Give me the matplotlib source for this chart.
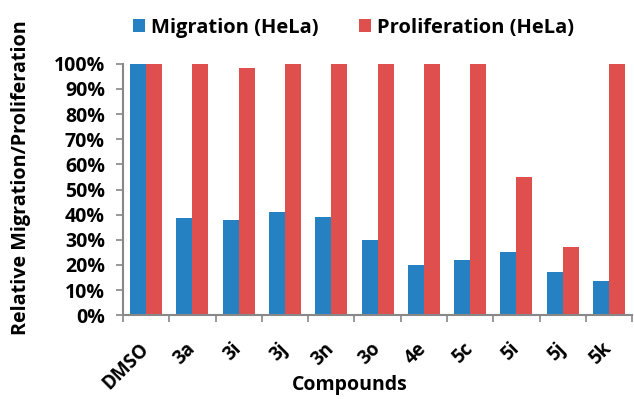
import matplotlib.pyplot as plt
import numpy as np

plt.rcParams['font.family'] = ['Open Sans', 'DejaVu Sans']
plt.rcParams['font.weight'] = 'bold'

compounds = ["DMSO", "3a", "3i", "3j", "3n", "3o", "4e", "5c", "5i", "5j", "5k"]
migration = [100, 38.5, 38, 41, 39, 30, 20, 22, 25, 17, 13.5]
proliferation = [100, 100, 98.3, 100, 100, 100, 100, 100, 55, 27, 100]

blue = "#2681C2"
red = "#DE4F4E"

fig = plt.figure(figsize=(6.34, 3.99), dpi=100)
ax = fig.add_axes([0.194, 0.21, 0.803, 0.63])

x = np.arange(len(compounds))
w = 0.345
ax.bar(x - w / 2, migration, w, color=blue, label="Migration (HeLa)")
ax.bar(x + w / 2, proliferation, w, color=red, label="Proliferation (HeLa)")

ax.set_xlim(-0.5, len(compounds) - 0.5)
ax.set_ylim(0, 100)
ax.set_yticks(range(0, 101, 10))
ax.set_yticklabels([f"{v}%" for v in range(0, 101, 10)], fontsize=14, fontweight='bold')

ax.set_xticks(x)
ax.set_xticklabels(compounds, rotation=45, ha='right', va='center', rotation_mode='anchor',
                   fontsize=13.5, fontweight='bold')
ax.tick_params(axis='x', which='major', length=0, pad=22)
ax.set_xticks(np.arange(-0.5, len(compounds)), minor=True)
ax.tick_params(axis='x', which='minor', length=5, color='#888888', width=1.2)
ax.tick_params(axis='y', length=5, color='#888888', width=1.2, pad=8)

for s in ['top', 'right']:
    ax.spines[s].set_visible(False)
for s in ['left', 'bottom']:
    ax.spines[s].set_color('#888888')
    ax.spines[s].set_linewidth(1.5)

ax.set_ylabel("Relative Migration/Proliferation", fontsize=14.2, fontweight='bold',
              va='center')
ax.yaxis.set_label_coords(-0.2, 0.546)
ax.set_xlabel("Compounds", fontsize=14, fontweight='bold', va='center')
ax.xaxis.set_label_coords(0.446, -0.279)

fig.legend(loc='center', bbox_to_anchor=(0.558, 0.93), ncol=2, frameon=False,
           fontsize=14.5, handlelength=0.6, handleheight=0.6, columnspacing=2.0,
           handletextpad=0.3)

fig.savefig("out.png", dpi=100)
